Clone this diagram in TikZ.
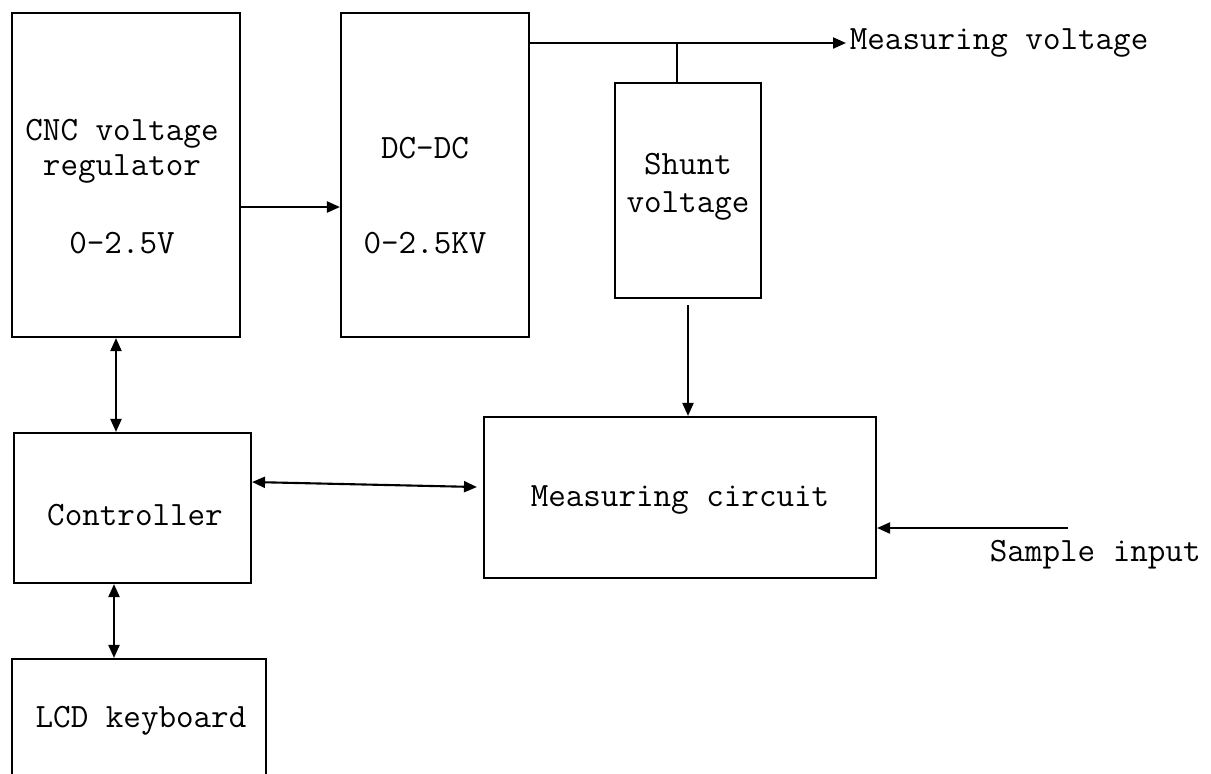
\documentclass[tikz,border=0pt]{standalone}
\usepackage{tikz}
\usetikzlibrary{positioning,arrows.meta}

\tikzset{
  blk/.style={draw=black, line width=1.2pt, minimum width=#1, inner sep=0pt},
  lbl/.style={font=\fontsize{19.4}{20}\selectfont\ttfamily, align=center, inner sep=2pt},
  wire/.style={black, line width=1.2pt},
  tip/.style={-{Triangle[length=2.6mm,width=2.2mm]}},
  tips/.style={{Triangle[length=2.6mm,width=2.2mm]}-{Triangle[length=2.6mm,width=2.2mm]}}
}

\begin{document}
\begin{tikzpicture}
\useasboundingbox (0,0) rectangle (24.22,-15.46);

% boxes
\node[blk=4.56cm, minimum height=6.48cm] (cnc) at (2.52,-3.50) {};
\node[blk=3.76cm, minimum height=6.48cm] (dcdc) at (8.70,-3.50) {};
\node[blk=2.92cm, minimum height=4.30cm] (shunt) at (13.76,-3.81) {};
\node[blk=7.84cm, minimum height=3.22cm] (meas) at (13.60,-9.95) {};
\node[blk=4.74cm, minimum height=3.00cm] (ctrl) at (2.65,-10.16) {};
\node[blk=5.08cm, minimum height=2.42cm] (lcd) at (2.78,-14.39) {};

% texts
\node[lbl] (cnctxt) at ([xshift=-0.08cm, yshift=-0.23cm]cnc.center)
    {CNC voltage\\regulator\\[0.86cm]0-2.5V};
\node[lbl] (dcdctxt) at ([xshift=-0.2cm, yshift=-0.41cm]dcdc.center)
    {DC-DC\\[1.2cm]0-2.5KV};
\node[lbl] (shunttxt) at ([yshift=0.08cm]shunt.center) {Shunt\\[0.05cm]voltage};
\node[lbl] (meastxt) at ([yshift=-0.05cm]meas.center) {Measuring circuit};
\node[lbl] (ctrltxt) at ([xshift=0.05cm, yshift=-0.14cm]ctrl.center) {Controller};
\node[lbl] (lcdtxt) at ([xshift=0.04cm, yshift=-0.02cm]lcd.center) {LCD keyboard};
\node[lbl, anchor=west] (mvtxt) at (16.92,-0.86) {Measuring voltage};
\node[lbl, anchor=west] (sitxt) at (19.72,-11.10) {Sample input};

% connectors
\coordinate (junc) at (13.54,-0.86);
\coordinate (si) at (21.36,-10.56);
\draw[wire, tip] ([yshift=-0.64cm]cnc.east) -- ([yshift=-0.64cm]dcdc.west);
\draw[wire, tip] (dcdc.east |- mvtxt.west) -- (mvtxt.west);
\draw[wire] (junc) -- (junc |- shunt.north);
\draw[wire, tip] ([yshift=-0.12cm]shunt.south) -- (shunt.south |- meas.north);
\draw[wire, tips] ([xshift=-0.2cm]cnc.south) -- ([xshift=-0.2cm]cnc.south |- ctrl.north);
\draw[wire, tips] ([xshift=-0.37cm]ctrl.south) -- ([xshift=-0.37cm]ctrl.south |- lcd.north);
\draw[wire, tips] ([yshift=0.52cm]ctrl.east) -- ([xshift=-0.12cm, yshift=0.21cm]meas.west);
\draw[wire, tip] (si) -- (si -| meas.east);
\end{tikzpicture}
\end{document}
